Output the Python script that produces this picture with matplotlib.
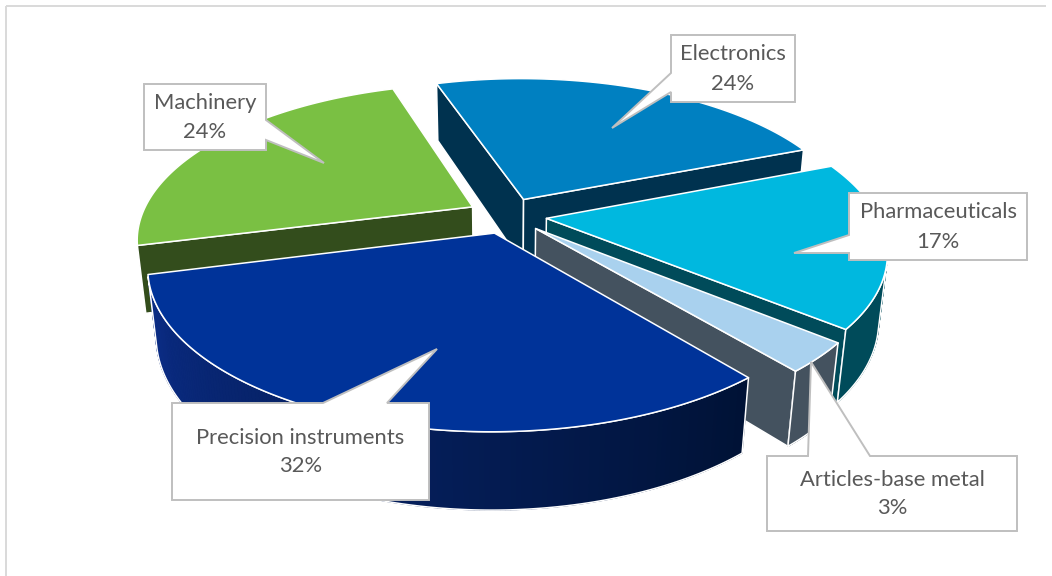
import numpy as np
import matplotlib
matplotlib.use("Agg")
import matplotlib.pyplot as plt
from matplotlib.patches import Polygon
from matplotlib.colors import to_rgb

# ---------------- data ----------------
categories = ["Electronics", "Pharmaceuticals", "Articles-base metal",
              "Precision instruments", "Machinery"]
shares = [24, 17, 3, 32, 24]
pct_labels = ["24%", "17%", "3%", "32%", "24%"]

top_colors = ["#0080C1", "#00B8DF", "#A9D1EE", "#003399", "#7AC043"]
side_colors = [("#00324F", "#00324F"), ("#004B5A", "#004B5A"),
               ("#44525F", "#44525F"), ("#0B2D88", "#001235"),
               ("#334D1C", "#334D1C")]

# ---------------- figure ----------------
W, H = 1052, 576
fig = plt.figure(figsize=(W / 100, H / 100), dpi=100)
ax = fig.add_axes([0, 0, 1, 1])
ax.set_xlim(0, W)
ax.set_ylim(H, 0)
ax.axis("off")

# chart frame
ax.plot([5.5, 1046], [5.5, 5.5], color="#d9d9d9", lw=1.4, solid_capstyle="butt")
ax.plot([5.5, 5.5], [5.5, H], color="#d9d9d9", lw=1.4, solid_capstyle="butt")

# ---------------- 3-D projection ----------------
phi = np.radians(26.6)
Dist = 4.47
fx, fy = 1480, 1506
cx, cy = 507, 215.5
thick = 0.224
explode = 0.12
start_deg = -18.0
cam = np.array([0.0, -Dist * np.cos(phi), Dist * np.sin(phi)])


def proj(X, Y, Z):
    depth = Dist + Y * np.cos(phi) - Z * np.sin(phi)
    sx = cx + fx * X / depth
    sy = cy - fy * (Y * np.sin(phi) + Z * np.cos(phi)) / depth
    return np.column_stack([np.atleast_1d(sx), np.atleast_1d(sy)])


def visible(normal, point):
    return np.dot(normal, cam - point) > 0


total = float(sum(shares))
slices = []
cum = 0.0
for i, s in enumerate(shares):
    t1 = start_deg + cum / total * 360.0
    t2 = t1 + s / total * 360.0
    cum += s
    slices.append((i, t1, t2))

EDGE = "white"
ELW = 1.1


def draw_slice(i, t1, t2):
    beta = np.radians((t1 + t2) / 2)
    ox, oy = explode * np.sin(beta), explode * np.cos(beta)
    th = np.radians(np.linspace(t1, t2, 160))
    X = ox + np.sin(th)
    Y = oy + np.cos(th)
    top_arc = proj(X, Y, np.zeros_like(X))
    bot_arc = proj(X, Y, np.full_like(X, -thick))
    apex_t = proj(np.array([ox]), np.array([oy]), np.array([0.0]))
    apex_b = proj(np.array([ox]), np.array([oy]), np.array([-thick]))
    c_left, c_right = side_colors[i]
    cl, cr = np.array(to_rgb(c_left)), np.array(to_rgb(c_right))

    # radial face at t1
    a1 = np.radians(t1)
    n1 = np.array([-np.cos(a1), np.sin(a1), 0.0])
    p1 = np.array([ox + 0.5 * np.sin(a1), oy + 0.5 * np.cos(a1), -thick / 2])
    if visible(n1, p1):
        poly = np.vstack([apex_t, top_arc[:1], bot_arc[:1], apex_b])
        ax.add_patch(Polygon(poly, closed=True, fc=c_right,
                             ec=EDGE, lw=ELW, joinstyle="round"))
    # radial face at t2
    a2 = np.radians(t2)
    n2 = np.array([np.cos(a2), -np.sin(a2), 0.0])
    p2 = np.array([ox + 0.5 * np.sin(a2), oy + 0.5 * np.cos(a2), -thick / 2])
    if visible(n2, p2):
        poly = np.vstack([apex_t, top_arc[-1:], bot_arc[-1:], apex_b])
        ax.add_patch(Polygon(poly, closed=True, fc=c_left,
                             ec=EDGE, lw=ELW, joinstyle="round"))

    # outer curved side
    mids = (th[:-1] + th[1:]) / 2
    vis = []
    for m in mids:
        n = np.array([np.sin(m), np.cos(m), 0.0])
        p = np.array([ox + np.sin(m), oy + np.cos(m), -thick / 2])
        vis.append(visible(n, p))
    vis = np.array(vis)
    if vis.any():
        idx = np.where(vis)[0]
        lo, hi = idx.min(), idx.max() + 1
        outline = np.vstack([top_arc[lo:hi + 1], bot_arc[lo:hi + 1][::-1]])
        # solid underlay so gradient seams do not show
        ax.add_patch(Polygon(outline, closed=True,
                             fc=(cl + cr) / 2, ec="none", lw=0))
        for k in range(lo, hi):
            f = (th[k] - th[lo]) / (th[hi] - th[lo] + 1e-9)
            col = cr * (1 - f) + cl * f
            quad = np.vstack([top_arc[k], top_arc[k + 1],
                              bot_arc[k + 1], bot_arc[k]])
            ax.add_patch(Polygon(quad, closed=True, fc=col, ec=col, lw=0.8))
        ax.add_patch(Polygon(outline, closed=True, fill=False,
                             ec=EDGE, lw=ELW, joinstyle="round"))

    # top face
    poly = np.vstack([apex_t, top_arc])
    ax.add_patch(Polygon(poly, closed=True, fc=top_colors[i],
                         ec=EDGE, lw=ELW, joinstyle="round"))


order = sorted(slices, key=lambda s: -np.cos(np.radians((s[1] + s[2]) / 2)))
for i, t1, t2 in order:
    draw_slice(i, t1, t2)

# ---------------- callout labels ----------------
BOX_EC = "#BFBFBF"
TXT = "#595959"
FONT = "Lato"
FS = 15.8

# (x0, y0, x1, y1), side, wedge (a, b), tip
callouts = {
    "Machinery": ((144, 84, 266, 150), "right", (120, 140), (324, 163)),
    "Electronics": ((671, 35, 795, 102), "left", (73, 92), (612, 128)),
    "Pharmaceuticals": ((849, 193, 1027, 260), "left", (235, 253), (794, 253)),
    "Articles-base metal": ((767, 456, 1017, 531), "top", (808, 870), (811, 362)),
    "Precision instruments": ((172, 403, 429, 500), "top", (323, 387), (437, 349)),
}


def callout_poly(box, side, wedge, tip):
    x0, y0, x1, y1 = box
    a, b = wedge
    if side == "right":
        return [(x0, y0), (x1, y0), (x1, a), tip, (x1, b), (x1, y1), (x0, y1)]
    if side == "left":
        return [(x0, y0), (x1, y0), (x1, y1), (x0, y1), (x0, b), tip, (x0, a)]
    if side == "top":
        return [(x0, y0), (a, y0), tip, (b, y0), (x1, y0), (x1, y1), (x0, y1)]
    return [(x0, y0), (x1, y0), (x1, y1), (x0, y1)]


for name, pct in zip(categories, pct_labels):
    box, side, wedge, tip = callouts[name]
    ax.add_patch(Polygon(callout_poly(box, side, wedge, tip), closed=True,
                         fc="white", ec=BOX_EC, lw=1.4, joinstyle="miter"))
    xc = (box[0] + box[2]) / 2
    yc = (box[1] + box[3]) / 2
    ax.text(xc, yc - 14, name, ha="center", va="center", fontsize=FS,
            color=TXT, family=FONT)
    ax.text(xc, yc + 15, pct, ha="center", va="center", fontsize=FS,
            color=TXT, family=FONT)

fig.savefig("out.png", dpi=100)
